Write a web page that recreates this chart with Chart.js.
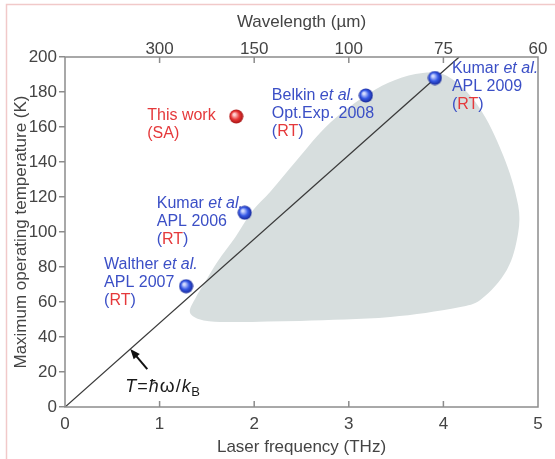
<!DOCTYPE html>
<html>
<head>
<meta charset="utf-8">
<script src="https://cdn.jsdelivr.net/npm/chart.js@4.4.0/dist/chart.umd.min.js"></script>
<style>
  html, body { margin: 0; padding: 0; background: #fff; }
  #wrap { width: 555px; height: 459px; }
</style>
</head>
<body>
<div id="wrap"><canvas id="c" width="555" height="459"></canvas></div>
<script>
// values
const refFreq = [1.28, 1.90, 3.18, 3.91];   // THz
const refTemp = [69, 111, 178, 188];        // K
const thisFreq = [1.81];
const thisTemp = [166];
// T = h nu / kB  (48 K per THz)
const limitFreq = [0, 200 / 48];
const limitTemp = [0, 200];
// outline of the gray region
const areaFreq = [2.48, 1.64, 1.41, 1.32, 1.38, 1.48, 1.61, 1.80, 1.98, 2.17, 2.45, 2.80, 3.22, 3.49, 3.78, 4.04, 4.36, 4.63, 4.79, 4.79, 4.67, 4.39, 4.18, 3.44, 2.48];
const areaTemp = [49.1, 48.6, 50.3, 54.3, 62.3, 71.4, 82.9, 97, 112, 123, 141, 162.3, 179.4, 186.9, 190.9, 189.1, 172.6, 144, 115.4, 99.4, 78.3, 61.1, 57.1, 51.4, 49.1];
const wavelengthTicks = ['', '300', '150', '100', '75', '60'];

const FONT = '"Liberation Sans", Arial, Helvetica, sans-serif';
const BLUE = '#3b4fc6';
const RED = '#e5393b';

const zip = (xs, ys) => xs.map((x, i) => ({x: x, y: ys[i]}));

function sphere(light, mid, dark) {
    const c = document.createElement('canvas');
    c.width = 15; c.height = 15;
    const g = c.getContext('2d');
    const grad = g.createRadialGradient(5.5, 5.5, 1, 7.5, 7.5, 7.5);
    grad.addColorStop(0, light);
    grad.addColorStop(0.5, mid);
    grad.addColorStop(1, dark);
    g.fillStyle = grad;
    g.beginPath();
    g.arc(7.5, 7.5, 7, 0, Math.PI * 2);
    g.fill();
    return c;
}

// label text per reference point, offset in px from the point
const RT = [['(', BLUE], ['RT', RED], [')', BLUE]];
const refLabels = [
    {dx: -82, dy: -17, lines: [[['Walther ', BLUE], ['et al.', BLUE, true]], [['APL 2007', BLUE]], RT]},
    {dx: -88, dy: -5, lines: [[['Kumar ', BLUE], ['et al.', BLUE, true]], [['APL 2006', BLUE]], RT]},
    {dx: -94, dy: 4, lines: [[['Belkin ', BLUE], ['et al.', BLUE, true]], [['Opt.Exp. 2008', BLUE]], RT]},
    {dx: 17, dy: -5, lines: [[['Kumar ', BLUE], ['et al.', BLUE, true]], [['APL 2009', BLUE]], RT]}
];
const thisLabel = {dx: -89, dy: 3, lines: [[['This work', RED]], [['(SA)', RED]]]};

function drawRuns(ctx, runs, x, y, size) {
    for (const r of runs) {
        ctx.font = (r[2] ? 'italic ' : '') + size + 'px ' + FONT;
        ctx.fillStyle = r[1];
        ctx.fillText(r[0], x, y);
        x += ctx.measureText(r[0]).width;
    }
}

const decor = {
    id: 'decor',
    beforeDraw(chart) {
        const ctx = chart.ctx;
        ctx.save();
        ctx.strokeStyle = '#f1c9c9';
        ctx.lineWidth = 1.5;
        ctx.beginPath();
        ctx.moveTo(6.5, 459); ctx.lineTo(6.5, 4.5); ctx.lineTo(555, 4.5);
        ctx.stroke();
        ctx.restore();
    },
    afterDraw(chart) {
        const ctx = chart.ctx;
        const a = chart.chartArea;
        const sx = chart.scales.x, sy = chart.scales.y;
        ctx.save();
        // frame and inward ticks on both x axes
        ctx.strokeStyle = '#8c8c8c';
        ctx.lineWidth = 1.5;
        ctx.strokeRect(a.left, a.top, a.right - a.left, a.bottom - a.top);
        ctx.beginPath();
        for (let v = 1; v <= 4; v++) {
            const px = sx.getPixelForValue(v);
            ctx.moveTo(px, a.bottom); ctx.lineTo(px, a.bottom - 6);
            ctx.moveTo(px, a.top); ctx.lineTo(px, a.top + 6);
        }
        ctx.stroke();

        // labels
        ctx.textBaseline = 'alphabetic';
        ctx.textAlign = 'left';
        ctx.beginPath();
        ctx.rect(0, 0, a.right + 2, chart.height);
        ctx.clip();
        const put = (lab, fx, ty) => {
            const px = sx.getPixelForValue(fx), py = sy.getPixelForValue(ty);
            lab.lines.forEach((ln, i) => drawRuns(ctx, ln, px + lab.dx, py + lab.dy + i * 18, 16));
        };
        refLabels.forEach((lab, i) => put(lab, refFreq[i], refTemp[i]));
        put(thisLabel, thisFreq[0], thisTemp[0]);

        // arrow to the T = hw/kB line
        const fx = 0.69;
        const hx = sx.getPixelForValue(fx), hy = sy.getPixelForValue(fx * 48);
        const tx = hx + 17, ty = hy + 20;
        const ang = Math.atan2(hy - ty, hx - tx);
        ctx.strokeStyle = '#111';
        ctx.fillStyle = '#111';
        ctx.lineWidth = 2;
        ctx.beginPath();
        ctx.moveTo(tx, ty);
        ctx.lineTo(hx - 6 * Math.cos(ang), hy - 6 * Math.sin(ang));
        ctx.stroke();
        ctx.beginPath();
        ctx.moveTo(hx, hy);
        ctx.lineTo(hx - 10 * Math.cos(ang) + 4 * Math.sin(ang), hy - 10 * Math.sin(ang) - 4 * Math.cos(ang));
        ctx.lineTo(hx - 10 * Math.cos(ang) - 4 * Math.sin(ang), hy - 10 * Math.sin(ang) + 4 * Math.cos(ang));
        ctx.closePath();
        ctx.fill();

        const fy = hy + 43;
        let x = hx - 5;
        const seg = (t, it, size, dy, gap) => {
            ctx.font = (it ? 'italic ' : '') + size + 'px ' + FONT;
            ctx.fillStyle = '#1a1a1a';
            ctx.fillText(t, x, fy + (dy || 0));
            x += ctx.measureText(t).width + (gap || 0);
        };
        seg('T', true, 18, 0, 1); seg('=', false, 18, 0, 1); seg('\u0127', true, 18, 0, 1); seg('\u03c9', false, 19, 0, 1);
        seg('/', false, 18, 0, 1); seg('k', true, 18, 0, 0.5); seg('B', false, 13, 4);
        ctx.restore();
    }
};

const tickFont = {family: FONT, size: 17};

new Chart(document.getElementById('c'), {
    type: 'scatter',
    data: {
        datasets: [
            {
                data: zip(thisFreq, thisTemp),
                pointStyle: sphere('#ffd0d0', '#e83535', '#9c1010'),
                pointRadius: 7,
                order: 0
            },
            {
                data: zip(refFreq, refTemp),
                pointStyle: sphere('#d4dcff', '#3558e6', '#15238f'),
                pointRadius: 7,
                order: 0
            },
            {
                data: zip(limitFreq, limitTemp),
                showLine: true,
                borderColor: '#3a3a3a',
                borderWidth: 1.3,
                pointRadius: 0,
                order: 1
            },
            {
                data: zip(areaFreq, areaTemp),
                showLine: true,
                fill: 'shape',
                backgroundColor: '#d7dede',
                borderWidth: 0,
                borderColor: 'rgba(0,0,0,0)',
                pointRadius: 0,
                tension: 0.35,
                order: 2
            }
        ]
    },
    options: {
        responsive: false,
        animation: false,
        devicePixelRatio: 1,
        layout: {padding: {left: 0, right: 17, top: 0, bottom: 0}},
        plugins: {legend: {display: false}, tooltip: {enabled: false}},
        scales: {
            x: {
                type: 'linear', position: 'bottom', min: 0, max: 5,
                ticks: {stepSize: 1, font: tickFont, color: '#444', padding: 7},
                grid: {display: false, drawTicks: false},
                border: {display: false},
                title: {display: true, text: 'Laser frequency (THz)', font: tickFont, color: '#444', padding: {top: 0, bottom: 1}},
                afterFit: s => { s.height = 52; }
            },
            x2: {
                type: 'linear', position: 'top', min: 0, max: 5,
                ticks: {stepSize: 1, font: tickFont, color: '#444', padding: -3,
                        callback: v => wavelengthTicks[v]},
                grid: {display: false, drawTicks: false},
                border: {display: false},
                title: {display: true, text: 'Wavelength (\u00b5m)', font: tickFont, color: '#444', padding: {top: 12, bottom: 0}},
                afterFit: s => { s.height = 57; }
            },
            y: {
                min: 0, max: 200,
                ticks: {stepSize: 20, font: tickFont, color: '#444', padding: 2},
                grid: {drawOnChartArea: false, tickLength: 6, color: '#8c8c8c', lineWidth: 1.5},
                border: {display: false},
                title: {display: true, text: 'Maximum operating temperature (K)', font: tickFont, color: '#444', padding: {top: 11, bottom: 0}},
                afterFit: s => { s.width = 65; }
            }
        }
    },
    plugins: [decor]
});
</script>
</body>
</html>
